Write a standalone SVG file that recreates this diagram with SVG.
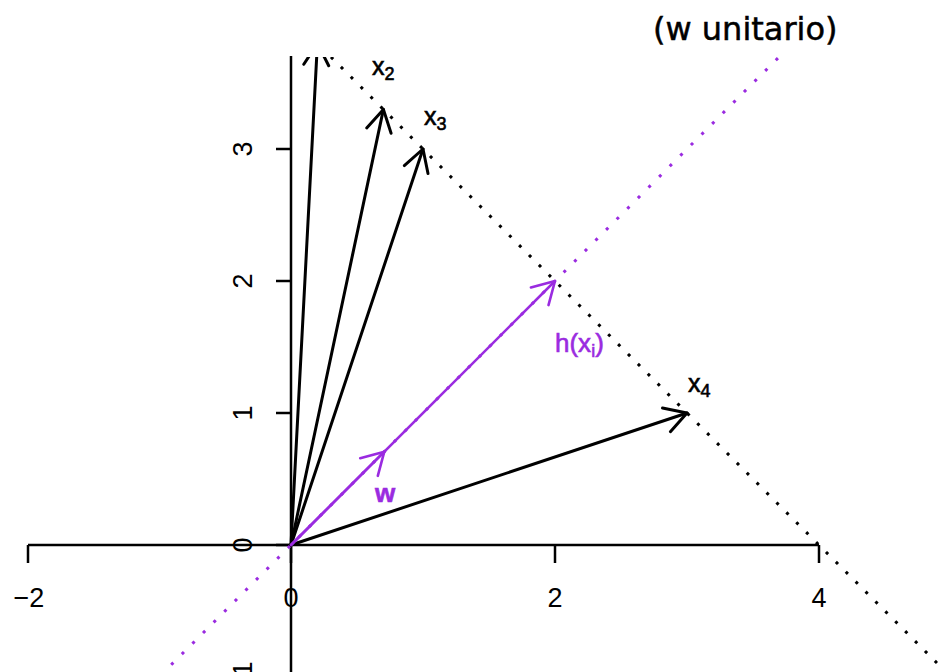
<svg xmlns="http://www.w3.org/2000/svg" width="938" height="672" viewBox="0 0 938 672">
<style>
.ax{stroke:#000;stroke-width:2.5;fill:none}
.vec{stroke:#000;stroke-width:3;fill:none;stroke-linecap:round;stroke-linejoin:round}
.pvec{stroke:#9a2be0;stroke-width:2.6;fill:none;stroke-linecap:round;stroke-linejoin:round}
.dotk{stroke:#000;stroke-width:3;stroke-dasharray:3 11;fill:none}
.dotp{stroke:#9a2be0;stroke-width:3;stroke-dasharray:3 12;fill:none}
.tk{font-family:"Liberation Sans",Arial,sans-serif;font-size:27px;fill:#000;text-anchor:middle}
.lb{font-family:"Liberation Sans",Arial,sans-serif;font-size:25px;fill:#000;stroke:#000;stroke-width:0.6}
.sub{font-size:18px}
.pl{font-family:"Liberation Sans",Arial,sans-serif;font-size:26px;fill:#9a2be0;stroke:#9a2be0;stroke-width:0.6}
</style>
<defs>
<clipPath id="plot"><rect x="0" y="57" width="938" height="640"/></clipPath>
</defs>
<g id="axes">
<line class="ax" x1="28" y1="545" x2="819" y2="545"/>
<line class="ax" x1="28" y1="545" x2="28" y2="563"/>
<line class="ax" x1="291" y1="545" x2="291" y2="563"/>
<line class="ax" x1="555" y1="545" x2="555" y2="563"/>
<line class="ax" x1="819" y1="545" x2="819" y2="563"/>
<line class="ax" x1="291" y1="56" x2="291" y2="690"/>
<line class="ax" x1="276" y1="149" x2="291" y2="149"/>
<line class="ax" x1="276" y1="281" x2="291" y2="281"/>
<line class="ax" x1="276" y1="413" x2="291" y2="413"/>
<line class="ax" x1="276" y1="545" x2="291" y2="545"/>
<line class="ax" x1="276" y1="677" x2="291" y2="677"/>
<text class="tk" x="29" y="607">−2</text>
<text class="tk" x="291" y="607">0</text>
<text class="tk" x="555" y="607">2</text>
<text class="tk" x="819" y="607">4</text>
<text class="tk" transform="translate(252,677) rotate(-90)">−1</text>
<text class="tk" transform="translate(252,545) rotate(-90)">0</text>
<text class="tk" transform="translate(252,413) rotate(-90)">1</text>
<text class="tk" transform="translate(252,281) rotate(-90)">2</text>
<text class="tk" transform="translate(252,149) rotate(-90)">3</text>
</g>
<g id="connectors" clip-path="url(#plot)">
<line class="dotp" x1="150" y1="686" x2="779" y2="57"/>
<line class="dotk" x1="331" y1="57" x2="950" y2="676"/>
<g id="x1">
<line class="vec" x1="291" y1="545" x2="317.4" y2="43.4"/>
<polyline class="vec" points="303.8,64.3 317.4,43.4 328.7,65.7"/>
</g>
<g id="x2">
<line class="vec" x1="291" y1="545" x2="383.4" y2="109.4"/>
<polyline class="vec" points="366.7,128 383.4,109.4 391.1,133.2"/>
</g>
<g id="x3">
<line class="vec" x1="291" y1="545" x2="423" y2="149"/>
<polyline class="vec" points="404.3,165.6 423,149 428,173.5"/>
</g>
<g id="x4">
<line class="vec" x1="291" y1="545" x2="687" y2="413"/>
<polyline class="vec" points="662.5,408 687,413 670.4,431.7"/>
</g>
<g id="h">
<line class="pvec" x1="291" y1="545" x2="555" y2="281"/>
<polyline class="pvec" points="530.9,287.5 555,281 548.5,305.1"/>
</g>
<g id="w">
<line class="pvec" x1="291" y1="545" x2="384.3" y2="451.7"/>
<polyline class="pvec" points="360.2,458.2 384.3,451.7 377.8,475.8"/>
</g>
</g>
<g id="labels">
<text class="lb" x="372" y="75">x<tspan class="sub" dy="5">2</tspan></text>
<text class="lb" x="424" y="125">x<tspan class="sub" dy="5">3</tspan></text>
<text class="lb" x="688" y="392">x<tspan class="sub" dy="5">4</tspan></text>
<text class="pl" x="555" y="352">h(x<tspan font-size="18" dy="5">i</tspan><tspan dy="-5">)</tspan></text>
<text class="pl" x="375" y="502" font-weight="bold">w</text>
<text x="653" y="40" font-family="'DejaVu Sans',Verdana,sans-serif" font-size="32" fill="#000" stroke="#000" stroke-width="0.5">(w unitario)</text>
</g>
</svg>
